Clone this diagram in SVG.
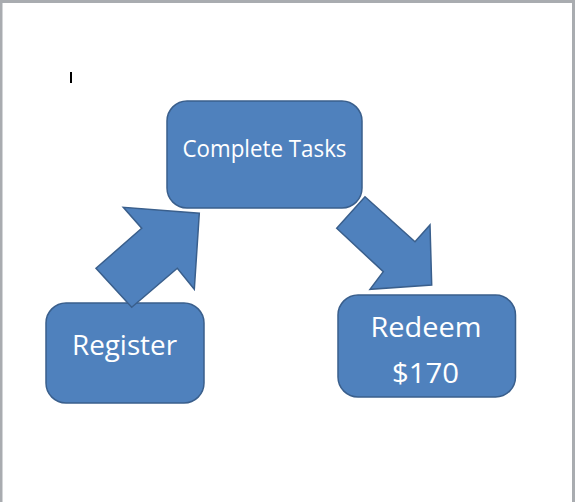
<svg xmlns="http://www.w3.org/2000/svg" width="575" height="502" viewBox="0 0 575 502">
<style>
.shape{fill:#4F81BD;stroke:#3A5F8C;stroke-width:1.5;stroke-linejoin:miter}
.lbl{fill:#FFFFFF;font-family:"Open Sans","Liberation Sans",Arial,sans-serif;text-anchor:middle}
</style>
<rect x="0" y="0" width="575" height="502" fill="#A9ACB0"/>
<rect x="2.5" y="3" width="569.5" height="499" fill="#FFFFFF"/>
<rect id="cursor" x="70" y="72" width="2" height="11" fill="#000000"/>
<g id="node-complete-tasks">
<rect class="shape" x="167" y="101" width="195" height="107" rx="20" ry="20"/>
<text class="lbl" x="264.5" y="157" font-size="23" textLength="164" lengthAdjust="spacingAndGlyphs">Complete Tasks</text>
</g>
<g id="node-register">
<rect class="shape" x="46" y="303" width="158" height="100" rx="20" ry="20"/>
<text class="lbl" x="124.5" y="355" font-size="28" textLength="105" lengthAdjust="spacingAndGlyphs">Register</text>
</g>
<g id="node-redeem">
<rect class="shape" x="338" y="295" width="177.5" height="102" rx="20" ry="20"/>
<text class="lbl" x="426" y="337" font-size="28" textLength="111" lengthAdjust="spacingAndGlyphs">Redeem</text>
<text class="lbl" x="425.5" y="383" font-size="28" textLength="67" lengthAdjust="spacingAndGlyphs">$170</text>
</g>
<g id="connectors">
<polygon id="arrow-register-to-tasks" class="shape" points="96,268.3 141.7,228.3 123.3,207.3 199.3,213.3 194.3,289.3 177.3,268.3 131.7,307.3"/>
<polygon id="arrow-tasks-to-redeem" class="shape" points="336.7,228.3 365,196.7 415,241.7 430,225 431.7,285 370,289.3 383.3,271.7"/>
</g>
</svg>
